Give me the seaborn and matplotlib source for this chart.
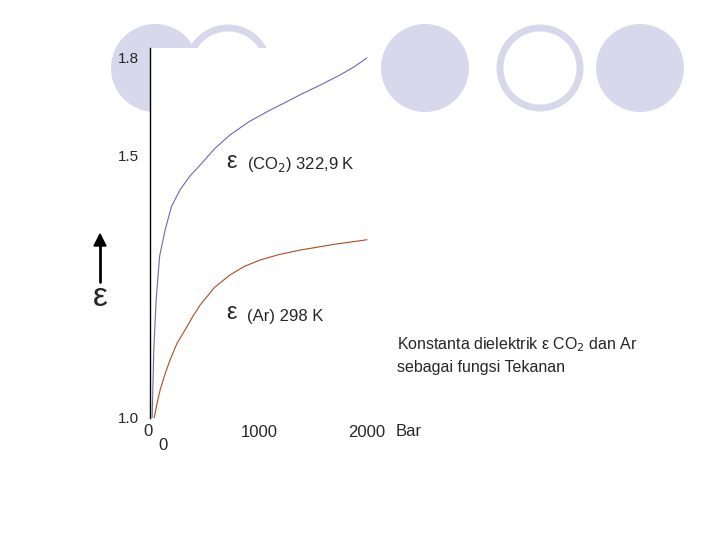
import matplotlib
matplotlib.use('Agg')
import matplotlib.pyplot as plt
import seaborn as sns
from matplotlib.patches import Ellipse

# data
p_co2 = [0, 15, 37, 70, 121, 180, 260, 350, 447, 580, 726, 900, 1098, 1240, 1377, 1560, 1749, 1880, 2000]
eps_co2 = [1.0, 1.15, 1.262, 1.36, 1.418, 1.47, 1.507, 1.537, 1.562, 1.598, 1.629, 1.658, 1.684, 1.701, 1.718, 1.739, 1.762, 1.780, 1.80]
p_ar = [19, 45, 74, 120, 167, 230, 307, 380, 447, 580, 726, 860, 1005, 1180, 1377, 1700, 2000]
eps_ar = [1.0, 1.032, 1.062, 1.098, 1.129, 1.165, 1.196, 1.226, 1.251, 1.290, 1.318, 1.337, 1.351, 1.363, 1.373, 1.386, 1.396]
ytick_vals = [1.0, 1.584, 1.8]
ytick_labels = ['1.0', '1.5', '1.8']
xtick_vals = [1000, 2000]
xtick_labels = ['1000', '2000']

sns.set_style('white')
plt.rcParams['font.family'] = ['Liberation Sans', 'DejaVu Sans']

fig = plt.figure(figsize=(7.2, 5.4), dpi=100)
W, H = 720, 540

# decorative circles
for cx, filled in [(155, True), (228, False), (425, True), (540, False), (640, True)]:
    if filled:
        e = Ellipse((cx / W, 1 - 68 / H), 88 / W, 88 / H, transform=fig.transFigure,
                    facecolor='#d8d8ec', edgecolor='none', zorder=0)
    else:
        e = Ellipse((cx / W, 1 - 68 / H), 80 / W, 80 / H, transform=fig.transFigure,
                    facecolor='none', edgecolor='#d8d8ec', linewidth=5, zorder=0)
    fig.patches.append(e)

ax = fig.add_axes([150 / W, 1 - 418 / H, 218 / W, 370 / H])
ax.set_facecolor('white')
ax.set_zorder(1)
sns.lineplot(x=p_co2, y=eps_co2, ax=ax, color='#6a6ab0', linewidth=0.8)
sns.lineplot(x=p_ar, y=eps_ar, ax=ax, color='#b04a20', linewidth=0.8)
ax.set_xlim(-20, 2010)
ax.set_ylim(1.0, 1.822)
for s in ['top', 'right', 'bottom']:
    ax.spines[s].set_visible(False)
ax.spines['left'].set_color('black')
ax.spines['left'].set_linewidth(1)
ax.set_yticks(ytick_vals)
ax.set_yticklabels(ytick_labels, fontsize=11)
ax.set_xticks(xtick_vals)
ax.set_xticklabels(xtick_labels, fontsize=12)
ax.tick_params(length=0, pad=5)
ax.tick_params(axis='y', pad=8)

fig.text(148 / W, 1 - 432 / H, '0', fontsize=12, ha='center', va='center')
fig.text(163 / W, 1 - 445 / H, '0', fontsize=12, ha='center', va='center')
fig.text(396 / W, 1 - 432 / H, 'Bar', fontsize=12, ha='left', va='center')
fig.text(226 / W, 1 - 162 / H, 'ε', fontsize=17, ha='left', va='center')
fig.text(247 / W, 1 - 165 / H, r'(CO$_2$) 322,9 K', fontsize=12, ha='left', va='center')
fig.text(226 / W, 1 - 313 / H, 'ε', fontsize=17, ha='left', va='center')
fig.text(247 / W, 1 - 316 / H, '(Ar) 298 K', fontsize=12, ha='left', va='center')
fig.text(397 / W, 1 - 355 / H, 'Konstanta dielektrik ε CO$_2$ dan Ar\nsebagai fungsi Tekanan',
         fontsize=11.5, ha='left', va='center', linespacing=1.5)
fig.text(100 / W, 1 - 297 / H, 'ε', fontsize=24, ha='center', va='center')
fig.add_artist(plt.Line2D([100 / W, 100 / W], [1 - 282 / H, 1 - 238 / H],
                          transform=fig.transFigure, color='black', linewidth=2))
fig.add_artist(plt.Polygon([[94 / W, 1 - 246 / H], [106 / W, 1 - 246 / H], [100 / W, 1 - 234 / H]],
                           closed=True, transform=fig.transFigure, color='black'))

fig.savefig('out.png', dpi=100)
